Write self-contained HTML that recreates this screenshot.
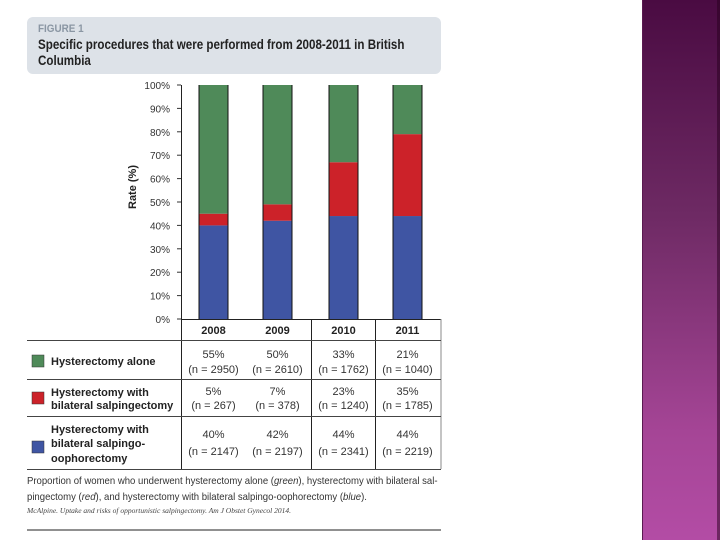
<!DOCTYPE html>
<html><head><meta charset="utf-8"><style>
body{margin:0;width:720px;height:540px;overflow:hidden;background:#fff;font-family:"Liberation Sans",sans-serif;position:relative}
.side{position:absolute;left:642px;top:0;width:78px;height:540px;background:linear-gradient(#4a0b42,#6e2a64 40%,#a54596 80%,#b34ca5);border-left:1px solid #5a1a50}
.side:after{content:"";position:absolute;right:0;top:0;width:4px;height:540px;background:rgba(40,0,30,.5)}
.hdr{position:absolute;left:27px;top:17px;width:414px;height:57px;background:#dde2e8;border-radius:6px}
.t{position:absolute;white-space:nowrap;transform-origin:0 0}
</style></head><body>
<div class="side"></div>
<div class="hdr"></div>
<div class="t" style="left:38px;top:23px;font-size:11px;color:#8a96a3;font-weight:bold;transform:scaleX(0.9)">FIGURE 1</div>
<div class="t" style="left:38px;top:37px;font-size:13.5px;font-weight:bold;color:#222;line-height:16px;transform:scaleX(0.86)">Specific procedures that were performed from 2008-2011 in British<br>Columbia</div>
<svg width="720" height="540" style="position:absolute;left:0;top:0" id="chart"></svg>
<div class="t" style="left:27px;top:473px;font-size:10.5px;color:#333;line-height:16px;transform:scaleX(0.91)">Proportion of women who underwent hysterectomy alone (<i>green</i>), hysterectomy with bilateral sal-<br>pingectomy (<i>red</i>), and hysterectomy with bilateral salpingo-oophorectomy (<i>blue</i>).</div>
<div class="t" style="left:27px;top:506px;font-size:7.5px;color:#444;font-style:italic;font-family:'Liberation Serif',serif">McAlpine. Uptake and risks of opportunistic salpingectomy. Am J Obstet Gynecol 2014.</div>
<script>
const years=["2008","2009","2010","2011"];
const blue=[40,42,44,44];
const red=[5,7,23,35];
const green=[55,50,33,21];
const nGreen=[2950,2610,1762,1040];
const nRed=[267,378,1240,1785];
const nBlue=[2147,2197,2341,2219];
const ticks=[0,10,20,30,40,50,60,70,80,90,100];
const svg=document.getElementById('chart');const NS="http://www.w3.org/2000/svg";
function el(t,a,p){const e=document.createElementNS(NS,t);for(const k in a)e.setAttribute(k,a[k]);(p||svg).appendChild(e);return e;}
const y0=319,y1=85;function y(v){return y0-(y0-y1)*v/100;}
const cx=[213.5,277.5,343.5,407.5];function x(i){return cx[i];}
const bw=29;
ticks.forEach(t=>{const e=el('text',{x:170,y:y(t)+4,'text-anchor':'end','font-size':10,fill:'#333','font-family':'Liberation Sans'});e.textContent=t+'%';


const l=el('line',{x1:177,x2:181,y1:y(t),y2:y(t),stroke:'#333'});

});
const yt=el('text',{x:0,y:0,transform:'translate(136,187) rotate(-90)','text-anchor':'middle','font-size':11,'font-weight':'bold',fill:'#222'});yt.textContent='Rate (%)';


years.forEach((yr,i)=>{
 const segs=[[0,blue[i],'#3f55a3'],[blue[i],blue[i]+red[i],'#cc2229'],[blue[i]+red[i],100,'#4f8a59']];
 ['blue','red','green'].forEach((n,j)=>{const s=segs[j];const r=el('rect',{x:x(i)-bw/2,y:y(s[1]),width:bw,height:y(s[0])-y(s[1]),fill:s[2]});
 
 });
 el('line',{x1:x(i)-bw/2,x2:x(i)-bw/2,y1:y1,y2:y0,stroke:'#111','stroke-width':1});
 el('line',{x1:x(i)+bw/2,x2:x(i)+bw/2,y1:y1,y2:y0,stroke:'#111','stroke-width':1});
 const t=el('text',{x:x(i),y:334,'text-anchor':'middle','font-size':11,'font-weight':'bold',fill:'#222'});t.textContent=yr;
 
 
 const rows=[[green,nGreen,358,373],[red,nRed,395,409],[blue,nBlue,438,455]];
 rows.forEach(r=>{const p=el('text',{x:x(i),y:r[2],'text-anchor':'middle','font-size':11,fill:'#333'});p.textContent=r[0][i]+'%';
 
 
 const q=el('text',{x:x(i),y:r[3],'text-anchor':'middle','font-size':11,fill:'#333'});q.textContent='(n = '+r[1][i]+')';
 
 });
});
el('line',{x1:181.5,x2:181.5,y1:85,y2:469,stroke:'#222'});
el('line',{x1:181,x2:441,y1:319.5,y2:319.5,stroke:'#222'});
[311.5,375.5].forEach(v=>el('line',{x1:v,x2:v,y1:319,y2:469,stroke:'#222'}));
el('line',{x1:441,x2:441,y1:319,y2:469,stroke:'#888'});
[340.5,379.5,416.5,469.5].forEach(v=>el('line',{x1:27,x2:441,y1:v,y2:v,stroke:'#444'}));
el('line',{x1:27,x2:441,y1:530,y2:530,stroke:'#222'});
const leg=[['#4f8a59',361,['Hysterectomy alone'],[365],'legend-green'],['#cc2229',398,['Hysterectomy with','bilateral salpingectomy'],[396,409],'legend-red'],['#3f55a3',447,['Hysterectomy with','bilateral salpingo-','oophorectomy'],[433,447,462],'legend-blue']];
leg.forEach(L=>{const r=el('rect',{x:32,y:L[1]-6,width:12,height:12,fill:L[0],stroke:'#333','stroke-width':.5});


L[2].forEach((s,k)=>{const t=el('text',{x:51,y:L[3][k],'font-size':11,'font-weight':'bold',fill:'#222'});t.textContent=s;

});});
</script>
</body></html>
